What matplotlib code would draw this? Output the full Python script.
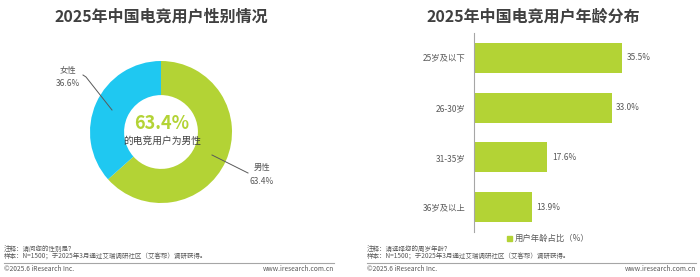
import matplotlib
matplotlib.use("Agg")
import matplotlib.pyplot as plt
from matplotlib.patches import Rectangle

plt.rcParams['font.family'] = ['Noto Sans CJK SC', 'DejaVu Sans']

# Data
gender_labels = ['男性', '女性']
gender_values = [63.4, 36.6]
age_labels = ['25岁及以下', '26-30岁', '31-35岁', '36岁及以上']
age_values = [35.5, 33.0, 17.6, 13.9]
legend_label = '用户年龄占比（%）'

GREEN = '#B3D335'
BLUE = '#1FC8F1'
DARK = '#404040'
GRAY = '#595959'

W, H = 700, 277
fig = plt.figure(figsize=(7, 2.77), dpi=100)

def fx(x):
    return x / W

def fy(y):
    return 1 - y / H

# ---------- Left: donut ----------
cx, cy, R = 161, 132, 71
axp = fig.add_axes([fx(cx - R), fy(cy + R), 2 * R / W, 2 * R / H])
axp.pie(gender_values, colors=[GREEN, BLUE], startangle=90, counterclock=False,
        radius=1.0, wedgeprops=dict(width=0.48, edgecolor='none'))
axp.set_xlim(-1, 1)
axp.set_ylim(-1, 1)
axp.set_aspect('auto')
axp.axis('off')

fig.text(fx(161), fy(16), '2025年中国电竞用户性别情况', ha='center', va='center',
         fontsize=11.5, fontweight='bold', color=DARK)
fig.text(fx(162), fy(124), f'{gender_values[0]:.1f}%', ha='center', va='center',
         fontsize=13, fontweight='bold', color=GREEN)
fig.text(fx(162), fy(141), '的电竞用户为男性', ha='center', va='center',
         fontsize=7, color=DARK)

# leader lines
fig.add_artist(plt.Line2D([fx(83), fx(86), fx(112)], [fy(75), fy(77), fy(110)], color=GRAY, lw=0.7))
fig.add_artist(plt.Line2D([fx(212), fx(248)], [fy(155), fy(173)], color=GRAY, lw=0.7))
fig.text(fx(68), fy(71), gender_labels[1], ha='center', va='center', fontsize=6, color=GRAY)
fig.text(fx(68), fy(83), f'{gender_values[1]:.1f}%', ha='center', va='center', fontsize=6, color=GRAY)
fig.text(fx(262), fy(167), gender_labels[0], ha='center', va='center', fontsize=6, color=GRAY)
fig.text(fx(262), fy(181), f'{gender_values[0]:.1f}%', ha='center', va='center', fontsize=6, color=GRAY)

# ---------- Right: bars ----------
ax_left, ax_top, ax_bottom = 474, 33, 232
xmax = 50
px_per = 4.17
axb = fig.add_axes([fx(ax_left), fy(ax_bottom), xmax * px_per / W, (ax_bottom - ax_top) / H])
ypos = list(range(len(age_labels)))
axb.barh(ypos, age_values, height=0.6, color=GREEN)
axb.set_ylim(len(age_labels) - 0.5, -0.5)
axb.set_xlim(0, xmax)
for s in ['top', 'right', 'bottom']:
    axb.spines[s].set_visible(False)
axb.spines['left'].set_color('#A6A6A6')
axb.spines['left'].set_linewidth(0.8)
axb.set_xticks([])
axb.set_yticks(ypos)
axb.set_yticklabels(age_labels, fontsize=6, color=GRAY)
axb.tick_params(axis='y', length=0, pad=6)
for y, v in zip(ypos, age_values):
    axb.text(v + 1.1, y, f'{v:.1f}%', va='center', ha='left', fontsize=6, color=GRAY)

fig.text(fx(533), fy(16), '2025年中国电竞用户年龄分布', ha='center', va='center',
         fontsize=11.5, fontweight='bold', color=DARK)

fig.add_artist(Rectangle((fx(507), fy(241)), 5 / W, 5 / H, color=GREEN,
                         transform=fig.transFigure))
fig.text(fx(515), fy(238.5), legend_label, ha='left', va='center', fontsize=6, color=GRAY)

# ---------- Footers ----------
def footer(x0, x1, note):
    fig.text(fx(x0), fy(249), note, ha='left', va='center', fontsize=4.7, color=GRAY)
    fig.text(fx(x0), fy(257), '样本：N=1500；于2025年3月通过艾瑞调研社区（艾客帮）调研获得。',
             ha='left', va='center', fontsize=4.7, color=GRAY)
    fig.add_artist(plt.Line2D([fx(x0), fx(x1)], [fy(263), fy(263)], color='#A6A6A6', lw=0.8))
    fig.text(fx(x0), fy(269), '©2025.6 iResearch Inc.', ha='left', va='center', fontsize=4.8, color=GRAY)
    fig.text(fx(x1), fy(269), 'www.iresearch.com.cn', ha='right', va='center', fontsize=4.8, color=GRAY)

footer(4, 334, '注释：请问您的性别是？')
footer(367, 696, '注释：请选择您的周岁年龄？')

fig.savefig('out.png', dpi=100, facecolor='white')
